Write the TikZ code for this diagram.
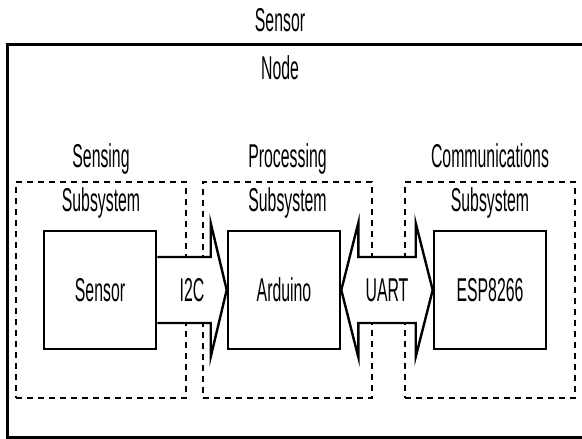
\documentclass[tikz,border=0pt]{standalone}
\usepackage{fontspec}
\setmainfont[FakeStretch=0.48]{Liberation Sans}
\usetikzlibrary{calc, positioning, backgrounds}

\begin{document}
\begin{tikzpicture}[
    x=1pt, y=-1pt,
    every node/.style={font=\fontsize{33}{44}\selectfont},
    unit/.style={rectangle, draw, line width=2.6pt, fill=white,
                 minimum width=112pt, minimum height=118pt},
    subsys/.style={rectangle, draw, line width=2pt,
                   dash pattern=on 6pt off 5pt,
                   minimum width=170pt, minimum height=216pt},
    caption/.style={align=center, inner sep=0pt},
    bus/.style={draw, fill=white, line width=2.4pt, line join=miter}
  ]
  \useasboundingbox (0,0) rectangle (582,439);

  % outer box, it runs off the right edge
  \draw[line width=3pt] (584,44) -| (7,437) -- (584,437);
  \node[caption] (nodelbl) at (280,44) {Sensor\\[4pt]Node};

  \node[unit] (sensor)  at (100,290) {Sensor};
  \node[unit] (arduino) at (284,290) {Arduino};
  \node[unit] (esp)     at (490,290) {ESP8266};

  \begin{scope}[on background layer]
    \node[subsys] (sensing) at (101,290) {};
    \node[subsys, minimum width=169pt] (proc) at (287.5,290) {};
    \node[subsys] (comm) at (490,290) {};

    % I2C bus
    \draw[bus] ([yshift=33pt]sensor.east)
      -- ([xshift=-16pt,yshift=33pt]arduino.west)
      -- ([xshift=-16pt,yshift=67pt]arduino.west)
      -- (arduino.west)
      -- ([xshift=-16pt,yshift=-67pt]arduino.west)
      -- ([xshift=-16pt,yshift=-33pt]arduino.west)
      -- ([yshift=-33pt]sensor.east);

    % UART bus, both ways
    \draw[bus] (arduino.east)
      -- ([xshift=17pt,yshift=67pt]arduino.east)
      -- ([xshift=17pt,yshift=33pt]arduino.east)
      -- ([xshift=-17pt,yshift=33pt]esp.west)
      -- ([xshift=-17pt,yshift=67pt]esp.west)
      -- (esp.west)
      -- ([xshift=-17pt,yshift=-67pt]esp.west)
      -- ([xshift=-17pt,yshift=-33pt]esp.west)
      -- ([xshift=17pt,yshift=-33pt]arduino.east)
      -- ([xshift=17pt,yshift=-67pt]arduino.east)
      -- cycle;
  \end{scope}

  \node[caption] (sensinglbl) at (sensing.north) {Sensing\\Subsystem};
  \node[caption] (proclbl) at (proc.north) {Processing\\Subsystem};
  \node[caption] (commlbl) at (comm.north) {Communications\\Subsystem};

  \node (i2c)  at ($(sensor.east)!.5!(arduino.west)$) {I2C};
  \node (uart) at ($(arduino.east)!.5!(esp.west)$) {UART};
\end{tikzpicture}
\end{document}
